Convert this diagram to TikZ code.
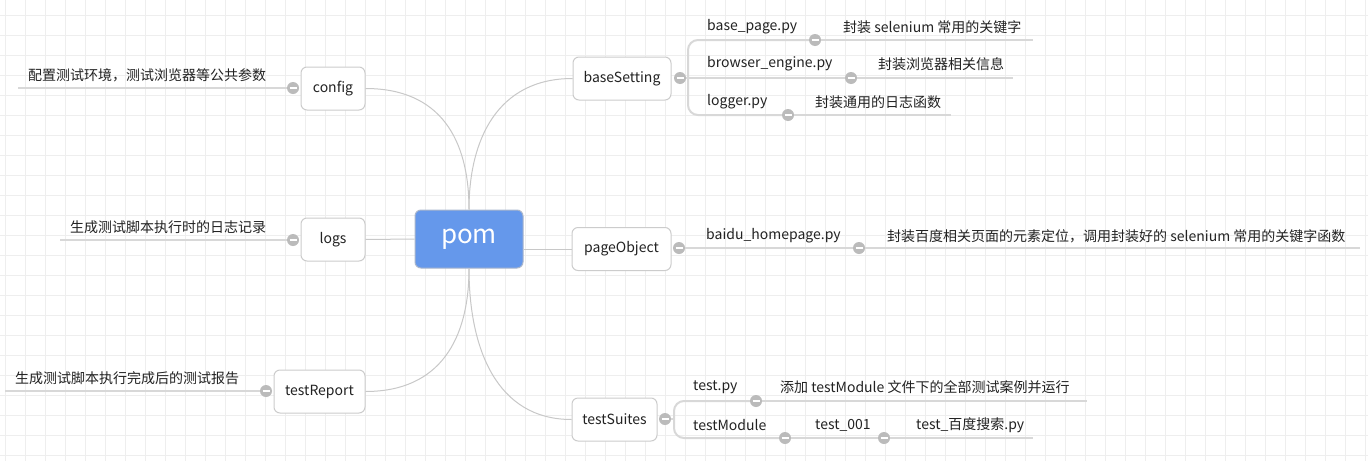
\documentclass[tikz,border=0pt]{standalone}
\usepackage{fontspec}
\setmainfont{Noto Sans CJK SC}
\definecolor{gridc}{HTML}{EEEEEE}
\definecolor{linec}{HTML}{D8D8D8}
\definecolor{curvec}{HTML}{C8C8C8}
\definecolor{dotc}{HTML}{BBBBBB}
\definecolor{boxc}{HTML}{CCCCCC}
\definecolor{pomc}{HTML}{6598EB}
\definecolor{pomb}{HTML}{A9B6CC}
\definecolor{txt}{HTML}{222222}
\tikzset{
  topic/.style={draw=boxc, fill=white, rounded corners=6pt, line width=1pt, minimum height=43pt, inner sep=0pt, font=\fontsize{14}{17}\selectfont, text=txt},
  lbl/.style={anchor=west, inner sep=0pt, font=\fontsize{14}{17}\selectfont, text=txt},
  dot/.style={circle, fill=dotc, minimum size=12pt, inner sep=0pt,
    path picture={\draw[white,line width=1.6pt] ([xshift=-3.5pt]path picture bounding box.center) -- ([xshift=3.5pt]path picture bounding box.center);}},
  lnk/.style={draw=linec, line width=2pt},
  crv/.style={draw=curvec, line width=1pt},
}
\begin{document}
\begin{tikzpicture}[x=1pt,y=-1pt]
\useasboundingbox (0,0) rectangle (1368,461);
\fill[white] (0,0) rectangle (1368,461);
\foreach \x in {5,25,...,1365} \draw[gridc, line width=1pt] (\x,0) -- (\x,461);
\foreach \y in {15,35,...,455} \draw[gridc, line width=1pt] (0,\y) -- (1368,\y);

% central topic
\node[draw=pomb, fill=pomc, rounded corners=6pt, line width=1pt, minimum width=108pt, minimum height=58pt, inner sep=0pt, text=white, font=\fontsize{26}{30}\selectfont] (pom) at (469,239) {pom};

% main topics
\node[topic, minimum width=64pt] (cfg) at (333,88.5) {config};
\node[topic, minimum width=64pt] (logs) at (333,239.5) {logs};
\node[topic, minimum width=91pt] (rep) at (319.5,391.5) {testReport};
\node[topic, minimum width=98pt] (bs) at (622,78.5) {baseSetting};
\node[topic, minimum width=99pt] (po) at (621.5,249) {pageObject};
\node[topic, minimum width=85pt] (ts) at (614.5,419.5) {testSuites};

% curves to pom
\draw[crv] (cfg.east) .. controls +(75,0) and +(0,-70) .. (pom.north);
\draw[crv] (bs.west) .. controls +(-75,0) and +(0,-70) .. (pom.north);
\draw[crv] (rep.east) .. controls +(75,0) and +(0,70) .. (pom.south);
\draw[crv] (ts.west) .. controls +(-75,0) and +(0,80) .. (pom.south);
\draw[crv] (logs.east) -- (pom.west);
\draw[crv] (po.west) -- (po.west -| pom.east);

% dots
\node[dot] (dcfg) at (293,88) {};
\node[dot] (dlogs) at (293,240) {};
\node[dot] (drep) at (266,391) {};
\node[dot] (dbs) at (680,78) {};
\node[dot] (dbp) at (815,40) {};
\node[dot] (dbe) at (851,78) {};
\node[dot] (dlg) at (788,115) {};
\node[dot] (dpo) at (679,248) {};
\node[dot] (dbh) at (859,248) {};
\node[dot] (dts) at (665,419) {};
\node[dot] (dtp) at (756,401) {};
\node[dot] (dtm) at (785,438) {};
\node[dot] (dt1) at (884,438) {};

% end coordinates
\coordinate (ecfg) at (18,88);
\coordinate (elogs) at (60,240);
\coordinate (erep) at (5,391);
\coordinate (ebp) at (1033,40);
\coordinate (ebe) at (1013,78);
\coordinate (elg) at (951,115);
\coordinate (ebh) at (1360,248);
\coordinate (etp) at (1087,401);
\coordinate (et1) at (1033,438);
\coordinate (bsT) at (688,40);
\coordinate (bsB) at (688,115);
\coordinate (tsT) at (674,401);
\coordinate (tsB) at (674,438);
\coordinate (tsM) at (674,419);

% lines
\draw[lnk] (dcfg.west) -- (ecfg);
\draw[lnk] (dlogs.west) -- (elogs);
\draw[lnk] (drep.west) -- (erep);
\draw[lnk] (dbs.east) -- (dbe.west);
\draw[lnk] (dbe.east) -- (ebe);
\draw[lnk, rounded corners=10pt] (dbp.west) -- (bsT) -- (bsB) -- (dlg.west);
\draw[lnk] (dbp.east) -- (ebp);
\draw[lnk] (dlg.east) -- (elg);
\draw[lnk] (dpo.east) -- (dbh.west);
\draw[lnk] (dbh.east) -- (ebh);
\draw[lnk] (dts.east) -- (tsM);
\draw[lnk, rounded corners=10pt] (dtp.west) -- (tsT) -- (tsB) -- (dtm.west);
\draw[lnk] (dtp.east) -- (etp);
\draw[lnk] (dtm.east) -- (dt1.west);
\draw[lnk] (dt1.east) -- (et1);

% labels
\node[lbl] (tcfg) at (28,75) {配置测试环境，测试浏览器等公共参数};
\node[lbl] (tlogs) at (70,227) {生成测试脚本执行时的日志记录};
\node[lbl] (trep) at (15,378) {生成测试脚本执行完成后的测试报告};
\node[lbl] (tbp) at (707,27) {base\_page.py};
\node[lbl] (tbpd) at (843,27) {封装 selenium 常用的关键字};
\node[lbl] (tbe) at (707,64) {browser\_engine.py};
\node[lbl] (tbed) at (878,64) {封装浏览器相关信息};
\node[lbl] (tlg) at (707,102) {logger.py};
\node[lbl] (tlgd) at (815,102) {封装通用的日志函数};
\node[lbl] (tbh) at (706,236) {baidu\_homepage.py};
\node[lbl] (tbhd) at (887,236) {封装百度相关页面的元素定位，调用封装好的 selenium 常用的关键字函数};
\node[lbl] (ttp) at (693,387) {test.py};
\node[lbl] (ttpd) at (780,387) {添加 testModule 文件下的全部测试案例并运行};
\node[lbl] (ttm) at (693,425) {testModule};
\node[lbl] (tt1) at (815,425) {test\_001};
\node[lbl] (tt1d) at (916,425) {test\_百度搜索.py};
\end{tikzpicture}
\end{document}
